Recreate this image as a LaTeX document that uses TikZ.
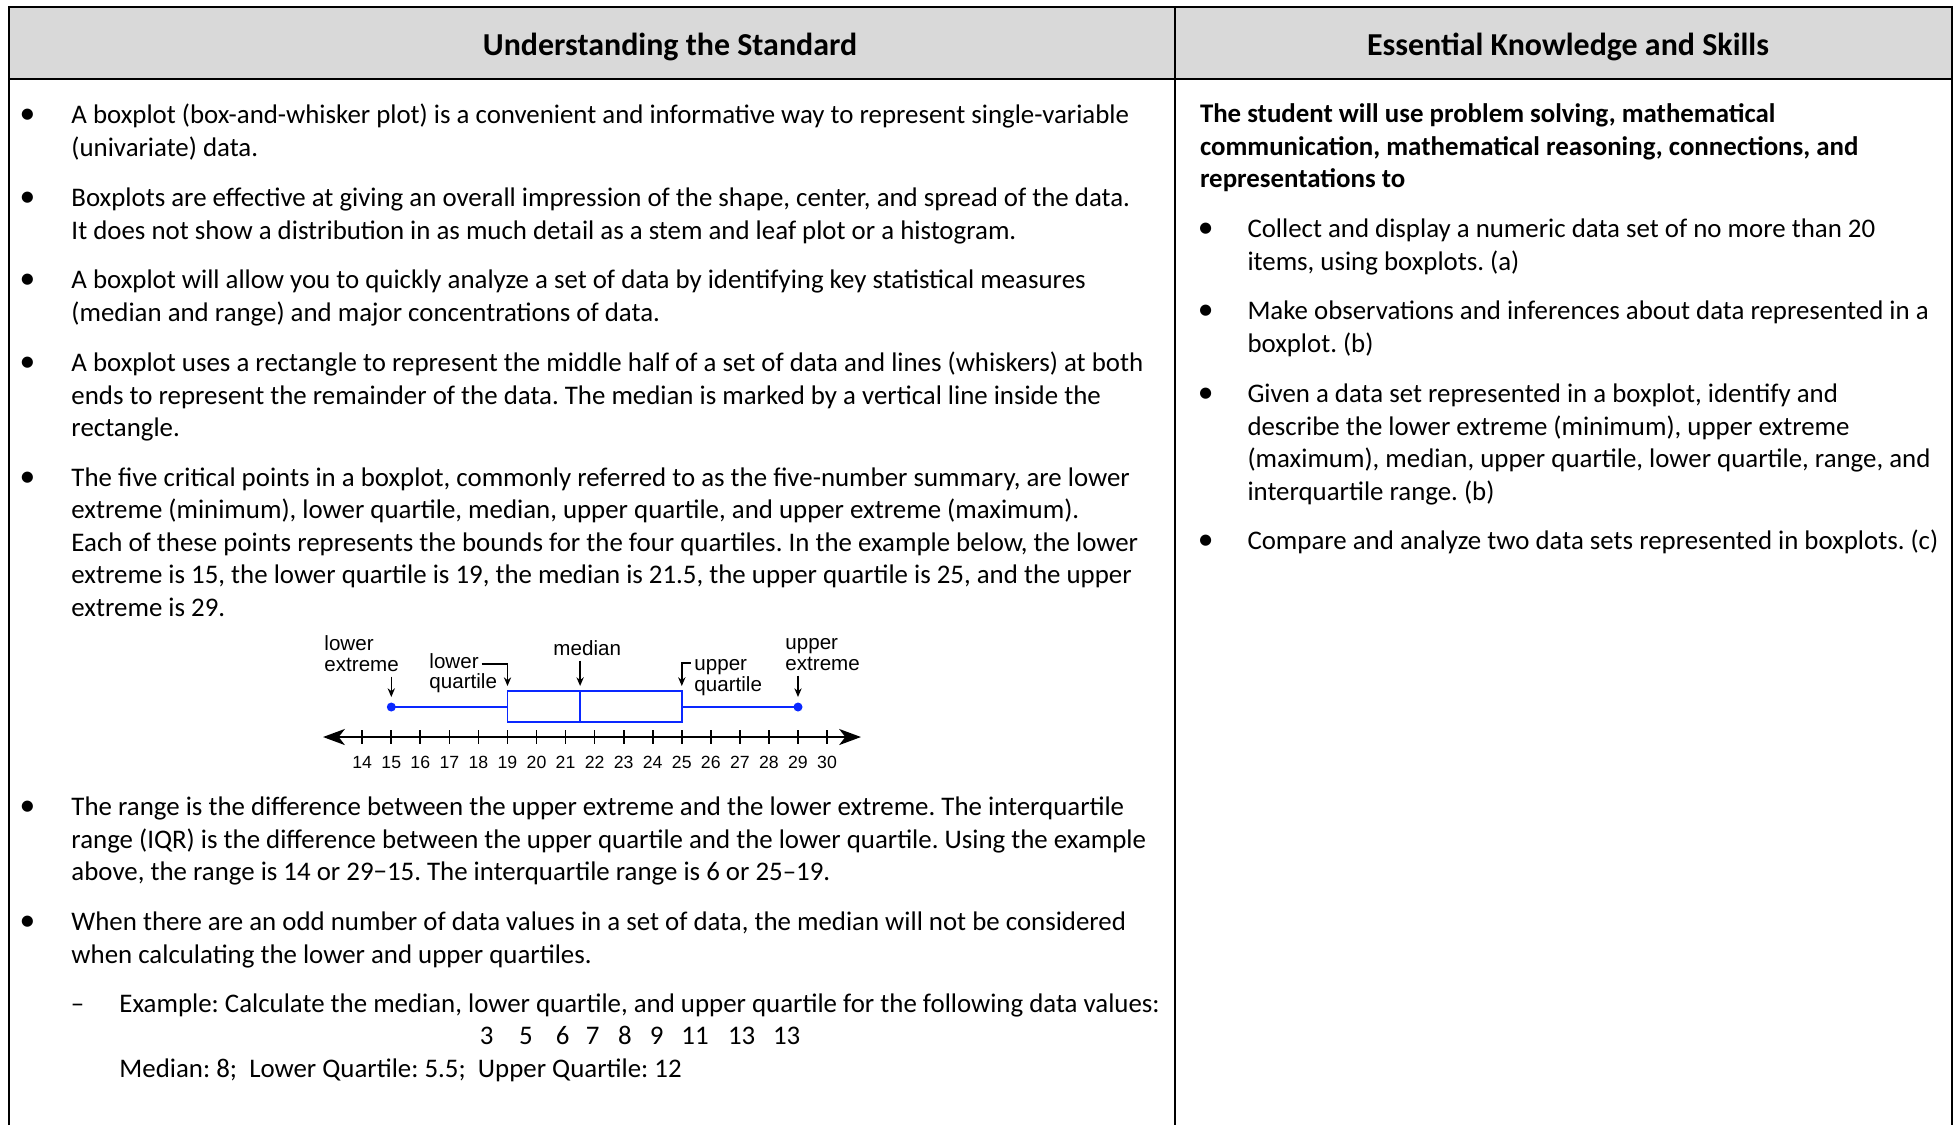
\documentclass[tikz,border=0pt]{standalone}
\usepackage{fontspec}
\setmainfont{Carlito}
\newfontfamily\plotfont{Liberation Sans}
\usetikzlibrary{arrows.meta}
\definecolor{headgray}{HTML}{D9D9D9}
\definecolor{plotblue}{RGB}{10,40,255}
\frenchspacing

\begin{document}
\begin{tikzpicture}[x=0.4132pt,y=-0.4132pt,
  body/.style={anchor=base west,inner sep=0pt,align=left,
    font=\fontsize{11.1}{13.43}\selectfont},
  head/.style={anchor=base,inner sep=0pt,font=\fontsize{13.2}{15}\selectfont\bfseries},
  bul/.style={anchor=base,inner sep=0pt,font=\fontsize{11.1}{13.43}\selectfont},
  plotlab/.style={anchor=base west,inner sep=0pt,align=left,
    font=\plotfont\fontsize{8.5}{8.3}\selectfont},
  ticklab/.style={anchor=base,inner sep=0pt,font=\plotfont\fontsize{7.3}{7.5}\selectfont},
  pointer/.style={-{Stealth[length=3.6pt,width=3pt]},line width=0.6pt},
  blueline/.style={plotblue,line width=0.8pt}]
\useasboundingbox (0,0) rectangle (1959,1125);
% table frame
\fill[headgray] (9,7) rectangle (1952,79);
\draw[line width=0.85pt] (9,1125) -- (9,7) -- (1952,7) -- (1952,1125);
\draw[line width=0.85pt] (9,79) -- (1952,79);
\draw[line width=0.85pt] (1175,7) -- (1175,1125);
\node[head] (hleft) at (670,55) {Understanding the Standard};
\node[head] (hright) at (1568,55) {Essential Knowledge and Skills};

% left column (base of a multi-line node = its last line)
\foreach \yy/\nm in {123.5/b1,206.5/b2,288.5/b3,371.5/b4,486/b5,815.5/b6,930.5/b7}
  \node[bul,font=\fontsize{13}{13}\selectfont] (\nm) at (27.5,\yy) {\textbullet};
\node[body] (t1) at (71,156) {A boxplot (box-and-whisker plot) is a convenient and informative way to represent single-variable\\(univariate) data.};
\node[body] (t2) at (71,239) {Boxplots are effective at giving an overall impression of the shape, center, and spread of the data.\\It does not show a distribution in as much detail as a stem and leaf plot or a histogram.};
\node[body] (t3) at (71,321) {A boxplot will allow you to quickly analyze a set of data by identifying key statistical measures\\(median and range) and major concentrations of data.};
\node[body] (t4) at (71,436.5) {A boxplot uses a rectangle to represent the middle half of a set of data and lines (whiskers) at both\\ends to represent the remainder of the data. The median is marked by a vertical line inside the\\rectangle.};
\node[body] (t5) at (71,616) {The five critical points in a boxplot, commonly referred to as the five-number summary, are lower\\extreme (minimum), lower quartile, median, upper quartile, and upper extreme (maximum).\\Each of these points represents the bounds for the four quartiles. In the example below, the lower\\extreme is 15, the lower quartile is 19, the median is 21.5, the upper quartile is 25, and the upper\\extreme is 29.};
\node[body] (t6) at (71,880.5) {The range is the difference between the upper extreme and the lower extreme. The interquartile\\range (IQR) is the difference between the upper quartile and the lower quartile. Using the example\\above, the range is 14 or 29−15. The interquartile range is 6 or 25–19.};
\node[body] (t7) at (71,963) {When there are an odd number of data values in a set of data, the median will not be considered\\when calculating the lower and upper quartiles.};
\node[bul] (d1) at (77.5,1012) {–};
\node[body] (t8) at (119,1012) {Example: Calculate the median, lower quartile, and upper quartile for the following data values:};
\foreach \v/\xx [count=\i] in {3/486.7,5/526,6/562.7,7/592.7,8/625,9/656.7,11/695,13/741.7,13/786.7}
  \node[bul] (val\i) at (\xx,1044.5) {\v};
\node[body] (t9) at (119,1077) {Median: 8;\ \ Lower Quartile: 5.5;\ \ Upper Quartile: 12};

% boxplot
\draw[line width=1.05pt,{Stealth[length=9pt,width=6.6pt,inset=2.5pt]}-{Stealth[length=9pt,width=6.6pt,inset=2.5pt]}] (323,737) -- (861,737);
\foreach \v in {14,...,30}{
  \draw[line width=0.7pt] ({362.2+(\v-14)*29.05},730) -- ({362.2+(\v-14)*29.05},744);
  \node[ticklab] (n\v) at ({362.2+(\v-14)*29.05},768) {\v};
}
\draw[blueline] (507.5,691) rectangle (681.8,722.2);
\draw[blueline] (580.1,691) -- (580.1,722.2);
\draw[blueline] (391.3,707) -- (507.5,707);
\draw[blueline] (681.8,707) -- (798,707);
\fill[plotblue] (391.3,707) circle (4.5);
\fill[plotblue] (798,707) circle (4.5);

\node[plotlab] (lowext) at (324,671) {lower\\extreme};
\node[plotlab] (lowq) at (429,688.6) {lower\\quartile};
\node[plotlab] (med) at (553,655) {median};
\node[plotlab] (upq) at (694,691) {upper\\quartile};
\node[plotlab] (upext) at (785,670) {upper\\extreme};
\coordinate (lowextpt) at (391.3,697);
\coordinate (lowqhook) at (481.5,664);
\coordinate (lowqpt) at (507.5,686);
\coordinate (medpt) at (580.1,686);
\coordinate (upqhook) at (690.7,663);
\coordinate (upqpt) at (681.8,686);
\coordinate (upextpt) at (798,697);
\draw[pointer] (lowext.south -| lowextpt) ++(0,5) -- (lowextpt);
\draw[pointer] (lowqhook) -| (lowqpt);
\draw[pointer] (med.south -| medpt) ++(0,5) -- (medpt);
\draw[pointer] (upqhook) -| (upqpt);
\draw[pointer] (upext.south -| upextpt) ++(0,5) -- (upextpt);

% right column
\node[body,font=\fontsize{11.1}{13.43}\selectfont\bfseries] (s0) at (1199.5,187.5) {The student will use problem solving, mathematical\\communication, mathematical reasoning, connections, and\\representations to};
\foreach \yy/\nm in {237.5/r1,319.5/r2,402.5/r3,549.5/r4}
  \node[bul,font=\fontsize{13}{13}\selectfont] (\nm) at (1205.7,\yy) {\textbullet};
\node[body] (s1) at (1247,270) {Collect and display a numeric data set of no more than 20\\items, using boxplots. (a)};
\node[body] (s2) at (1247,352) {Make observations and inferences about data represented in a\\boxplot. (b)};
\node[body] (s3) at (1247,500) {Given a data set represented in a boxplot, identify and\\describe the lower extreme (minimum), upper extreme\\(maximum), median, upper quartile, lower quartile, range, and\\interquartile range. (b)};
\node[body] (s4) at (1247,549.5) {Compare and analyze two data sets represented in boxplots. (c)};
\end{tikzpicture}
\end{document}
